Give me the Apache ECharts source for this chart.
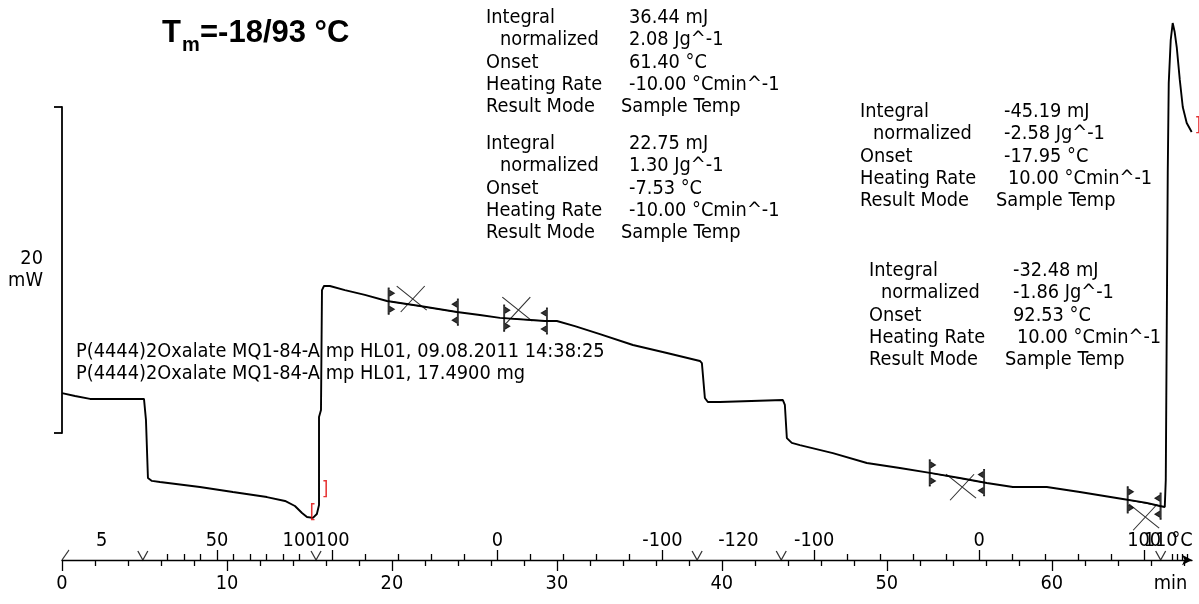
<!DOCTYPE html>
<html><head><meta charset="utf-8">
<script src="https://cdn.jsdelivr.net/npm/echarts@6/dist/echarts.min.js"></script>
<style>html,body{margin:0;padding:0;background:#fff}#c{width:1199px;height:604px}</style>
</head><body><div id="c"></div>
<script>
// ---- data ----
const timeMin = [0,0.79,1.70,4.97,5.09,5.21,5.45,5.94,8.36,10.36,12.42,13.52,14.12,14.55,14.85,15.21,15.45,15.58,15.58,15.70,15.76,15.88,16.24,17.15,18.36,19.70,21.70,23.94,25.33,26.55,29.27,30.0,31.09,32.61,34.61,36.67,38.67,38.79,38.97,39.15,39.88,43.70,43.82,43.94,44.24,44.73,46.73,48.79,50.79,52.61,54.42,56.06,57.64,59.70,61.70,64.30,65.76,66.55,66.85,66.91,67.03,67.09,67.21,67.33,67.45,67.58,67.76,67.94,68.18,68.48];
const heatFlow = [2.45,2.27,2.09,2.09,0.80,-2.76,-2.94,-3.01,-3.31,-3.62,-3.93,-4.17,-4.48,-4.91,-5.15,-5.21,-4.97,-4.42,0.98,1.41,8.77,9.02,9.02,8.77,8.47,8.10,7.79,7.42,7.24,7.06,6.87,6.87,6.56,6.07,5.40,4.91,4.42,4.29,2.15,1.90,1.90,2.02,1.72,-0.31,-0.61,-0.74,-1.23,-1.84,-2.15,-2.45,-2.76,-3.07,-3.31,-3.31,-3.62,-4.05,-4.29,-4.48,-4.54,-2.88,15.95,21.47,24.11,25.15,24.60,23.62,21.66,20.0,19.02,18.47];

const timeMajorTicks = [0,10,20,30,40,50,60];
const timeMinorTicks = [2,4,6,8,12,14,16,18,22,24,26,28,32,34,36,38,42,44,46,48,52,54,56,58,62,64,66,68];
const timeLabelValues = [0,10,20,30,40,50,60,67.2];
const timeLabels = ['0','10','20','30','40','50','60','min'];

const tempLabelTimes = [2.4,9.4,14.4,16.4,26.4,36.4,41.0,45.6,55.6,65.6,67.9];
const tempLabels = ['5','50','100','100','0','-100','-120','-100','0','100','°C'];
const tempEndLabelTimes = [66.6];
const tempEndLabels = ['110'];
const tempMajorTicks = [9.4,16.4,26.4,36.4,45.6,55.6,65.6];
const tempMinorTicks = [6.4,7.4,8.4,10.4,11.4,12.4,13.4,14.4,18.4,20.4,22.4,24.4,28.4,30.4,32.4,34.4,47.6,49.6,51.6,53.6,57.6,59.6,61.6,63.6,67.3,67.6,67.9,68.2];
const segmentBoundaries = [4.9,15.4,38.5,43.6,66.6];

const scaleBarMw = [0,20];
const scaleBarLabel = '20\nmW';

// integration evaluations
const intStart = [19.8,26.8,52.6,64.6];
const intEnd = [24.0,29.4,55.9,66.6];
const intCrossT = [21.2,27.6,54.5,65.6];
const intCrossOffset = [0.35,0.55,-0.55,-0.9];

const redMarkT = [15.95,15.2,68.85];
const redMarkV = [-3.5,-4.9,18.8];
const redMarkText = [']','[',']'];

const resultBlocks = [
  {labels:['Integral','  normalized','Onset','Heating Rate','Result Mode'],
   values:['36.44 mJ','2.08 Jg^-1','61.40 °C','-10.00 °Cmin^-1','Sample Temp']},
  {labels:['Integral','  normalized','Onset','Heating Rate','Result Mode'],
   values:['22.75 mJ','1.30 Jg^-1','-7.53 °C','-10.00 °Cmin^-1','Sample Temp']},
  {labels:['Integral','  normalized','Onset','Heating Rate','Result Mode'],
   values:['-45.19 mJ','-2.58 Jg^-1','-17.95 °C',' 10.00 °Cmin^-1','Sample Temp']},
  {labels:['Integral','  normalized','Onset','Heating Rate','Result Mode'],
   values:['-32.48 mJ','-1.86 Jg^-1','92.53 °C',' 10.00 °Cmin^-1','Sample Temp']}
];
const sampleLines = ['P(4444)2Oxalate MQ1-84-A mp HL01, 09.08.2011 14:38:25','P(4444)2Oxalate MQ1-84-A mp HL01, 17.4900 mg'];
const titleMain = 'T', titleSub = 'm', titleRest = '=-18/93 °C';

// ---- layout / style ----
const FONT = '"DejaVu Sans Condensed","DejaVu Sans",sans-serif';
const FS = 19.8;
const T_MAX = 68.5;

function valueAt(t){
  for (let i=1;i<timeMin.length;i++){
    if (timeMin[i] >= t){
      const t0=timeMin[i-1], t1=timeMin[i];
      if (t1===t0) return heatFlow[i];
      return heatFlow[i-1] + (heatFlow[i]-heatFlow[i-1])*(t-t0)/(t1-t0);
    }
  }
  return heatFlow[heatFlow.length-1];
}

const curve = timeMin.map((t,i)=>[t,heatFlow[i]]);

const series = [];
series.push({type:'line', xAxisIndex:0, yAxisIndex:0, data:curve, showSymbol:false, clip:false,
  lineStyle:{color:'#000', width:1.9}, z:5, animation:false});

// integration baselines
intStart.forEach((s,i)=>{
  series.push({type:'line', xAxisIndex:0, yAxisIndex:0, clip:false, showSymbol:false, animation:false,
    data:[[s,valueAt(s)],[intEnd[i],valueAt(intEnd[i])]], lineStyle:{color:'#000',width:1}});
});
const markerStyle = {color:'#000', borderColor:'#000', borderWidth:0.6};
series.push({type:'scatter', xAxisIndex:0, yAxisIndex:0, clip:false, animation:false,
  data:intStart.map(s=>[s,valueAt(s)]),
  symbol:'path://M0,0 L1.6,0 L1.6,2 L6.5,5 L1.6,8 L1.6,18 L6.5,21 L1.6,24 L1.6,26 L0,26 Z', symbolSize:[6.5,26], symbolOffset:[2.5,0],
  itemStyle:markerStyle, z:6});
series.push({type:'scatter', xAxisIndex:0, yAxisIndex:0, clip:false, animation:false,
  data:intEnd.map(s=>[s,valueAt(s)]),
  symbol:'path://M6.5,0 L4.9,0 L4.9,2 L0,5 L4.9,8 L4.9,18 L0,21 L4.9,24 L4.9,26 L6.5,26 Z', symbolSize:[6.5,26], symbolOffset:[-2.5,0],
  itemStyle:markerStyle, z:6});
series.push({type:'scatter', xAxisIndex:0, yAxisIndex:0, clip:false, animation:false,
  data:intCrossT.map((t,i)=>[t,valueAt(t)+intCrossOffset[i]]),
  symbol:'path://M0,0 L30,24 M28,0 L4,26', symbolSize:[30,26],
  itemStyle:{color:'rgba(0,0,0,0)', borderColor:'#000', borderWidth:1}, z:6});
// red limit brackets
series.push({type:'scatter', xAxisIndex:0, yAxisIndex:0, clip:false, animation:false,
  symbol:'circle', symbolSize:1, itemStyle:{color:'rgba(0,0,0,0)'},
  data:redMarkT.map((t,i)=>({value:[t,redMarkV[i]], label:{formatter:redMarkText[i]}})),
  label:{show:true, position:'inside', color:'#e00000', fontFamily:FONT, fontSize:19}, z:7});

// segment boundary V marks and axis start mark on strip grid
series.push({type:'scatter', xAxisIndex:1, yAxisIndex:1, clip:false, animation:false,
  data:segmentBoundaries.map(t=>[t,0]),
  symbol:'path://M0,0 L5,9 L10,0', symbolSize:[10,9], symbolOffset:[0,-4.5],
  itemStyle:{color:'rgba(0,0,0,0)', borderColor:'#000', borderWidth:1.2}});
series.push({type:'scatter', xAxisIndex:1, yAxisIndex:1, clip:false, animation:false,
  data:[[0,0]],
  symbol:'path://M0,10 L7,0', symbolSize:[7,10], symbolOffset:[3.5,-5],
  itemStyle:{color:'rgba(0,0,0,0)', borderColor:'#000', borderWidth:1.2}});

const labelFont = {fontFamily:FONT, fontSize:FS, color:'#000'};

const option = {
  backgroundColor:'#fff',
  animation:false,
  grid:[
    {left:62, right:7, top:107, height:326},
    {left:62, right:7, top:520, bottom:44}
  ],
  xAxis:[
    {gridIndex:0, type:'value', min:0, max:T_MAX, show:false},
    {gridIndex:1, type:'value', min:0, max:T_MAX, position:'bottom',
      axisLine:{show:true, lineStyle:{color:'#000', width:1.3}, symbol:['none','arrow'], symbolSize:[8,10]},
      axisTick:{show:true, customValues:timeMajorTicks, length:11, lineStyle:{color:'#000', width:1.3}},
      axisLabel:{show:true, customValues:timeLabelValues, margin:14, showMinLabel:true, showMaxLabel:true, hideOverlap:false,
        formatter:v=>timeLabels[timeLabelValues.indexOf(v)] ?? '', ...labelFont},
      splitLine:{show:false}},
    {gridIndex:1, type:'value', min:0, max:T_MAX, position:'bottom',
      axisLine:{show:false},
      axisTick:{show:true, customValues:timeMinorTicks, length:6, lineStyle:{color:'#000', width:1.3}},
      axisLabel:{show:false}, splitLine:{show:false}},
    {gridIndex:1, type:'value', min:0, max:T_MAX, position:'bottom',
      axisLine:{show:false},
      axisTick:{show:true, inside:true, customValues:tempMajorTicks, length:10, lineStyle:{color:'#000', width:1.3}},
      axisLabel:{show:true, inside:true, customValues:tempLabelTimes, margin:9, showMinLabel:true, showMaxLabel:true, hideOverlap:false,
        formatter:v=>tempLabels[tempLabelTimes.indexOf(v)] ?? '', ...labelFont},
      splitLine:{show:false}},
    {gridIndex:1, type:'value', min:0, max:T_MAX, position:'bottom',
      axisLine:{show:false},
      axisTick:{show:true, inside:true, customValues:tempMinorTicks, length:6, lineStyle:{color:'#000', width:1.3}},
      axisLabel:{show:true, inside:true, customValues:tempEndLabelTimes, margin:9, showMinLabel:true, showMaxLabel:true,
        formatter:v=>tempEndLabels[tempEndLabelTimes.indexOf(v)] ?? '', ...labelFont},
      splitLine:{show:false}}
  ],
  yAxis:[
    {gridIndex:0, type:'value', min:scaleBarMw[0], max:scaleBarMw[1], interval:20, position:'left',
      axisLine:{show:true, lineStyle:{color:'#000', width:1.8}},
      axisTick:{show:true, length:8, lineStyle:{color:'#000', width:1.8}},
      axisLabel:{show:false}, splitLine:{show:false},
      name:scaleBarLabel, nameLocation:'middle', nameGap:19, nameRotate:0,
      nameTextStyle:{fontFamily:FONT, fontSize:FS, color:'#000', align:'right', lineHeight:22, padding:[0,0,20,0]}},
    {gridIndex:1, type:'value', min:0, max:1, show:false}
  ],
  series:series,
  graphic:[]
};

// annotation texts
const blockPos = [
  {lx:486, nx:500, vx:629, sx:621, y:18},
  {lx:486, nx:500, vx:629, sx:621, y:144},
  {lx:860, nx:873, vx:1004, sx:996, y:112},
  {lx:869, nx:881, vx:1013, sx:1005, y:271}
];
const font = FS + 'px ' + FONT;
const g = [];
resultBlocks.forEach((b,bi)=>{
  const p = blockPos[bi];
  b.labels.forEach((lab,li)=>{
    const yy = p.y + li*22.3;
    g.push({type:'text', x: li===1 ? p.nx : p.lx, y:yy, silent:true,
      style:{text:lab.trim(), font:font, fill:'#000', verticalAlign:'middle'}});
    const val = b.values[li];
    g.push({type:'text', x: li===4 ? p.sx : (val.startsWith(' ') ? p.vx+4 : p.vx), y:yy, silent:true,
      style:{text:val.trim(), font:font, fill:'#000', verticalAlign:'middle'}});
  });
});
sampleLines.forEach((s,i)=>{
  g.push({type:'text', x:76, y:352+i*21.5, silent:true, style:{text:s, font:font, fill:'#000', verticalAlign:'middle'}});
});
g.push({type:'text', x:162, y:33, silent:true, style:{text:titleMain, font:'bold 31px "Liberation Sans", Arial, sans-serif', fill:'#000', verticalAlign:'middle'}});
g.push({type:'text', x:182, y:45, silent:true, style:{text:titleSub, font:'bold 20px "Liberation Sans", Arial, sans-serif', fill:'#000', verticalAlign:'middle'}});
g.push({type:'text', x:200, y:33, silent:true, style:{text:titleRest, font:'bold 31px "Liberation Sans", Arial, sans-serif', fill:'#000', verticalAlign:'middle'}});
option.graphic = g;

const chart = echarts.init(document.getElementById('c'), null, {renderer:'canvas'});
chart.setOption(option);
</script>
</body></html>
